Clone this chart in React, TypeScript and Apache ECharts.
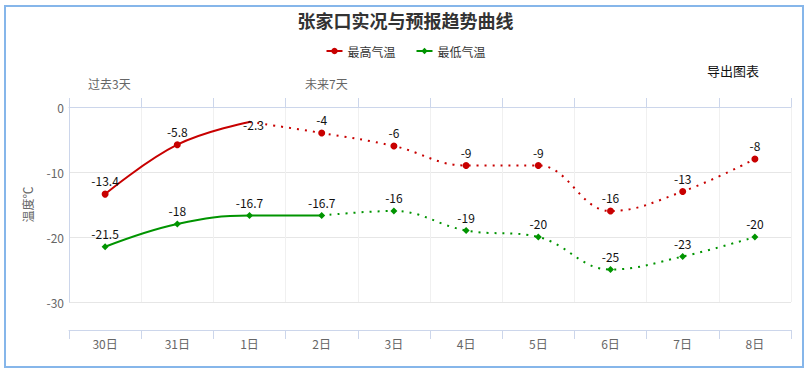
import React, { useEffect, useRef } from "react";
import * as echarts from "echarts";

const categories = ["30日", "31日", "1日", "2日", "3日", "4日", "5日", "6日", "7日", "8日"];
const highTemps = [-13.4, -5.8, -2.3, -4, -6, -9, -9, -16, -13, -8];
const lowTemps = [-21.5, -18, -16.7, -16.7, -16, -19, -20, -25, -23, -20];
// index of last observed (solid) point for each series
const highSolidEnd = 2;
const lowSolidEnd = 3;
const yTicks = { min: -30, max: 0, interval: 10 };

const RED = "#c80000";
const GREEN = "#009400";
const FONT = "'Noto Sans CJK SC', 'Noto Sans', sans-serif";

function buildSeries(name: string, values: number[], solidEnd: number, color: string, symbol: string, specialLabel?: { index: number; offset: number[] }) {
  const itemFor = (v: number, i: number) => {
    if (specialLabel && specialLabel.index === i) {
      return { value: v, symbolSize: 2, label: { show: true, position: "inside", offset: specialLabel.offset } };
    }
    return { value: v, label: { show: true } };
  };
  const solid = values.map((v, i) => (i <= solidEnd ? itemFor(v, i) : "-"));
  const dotted = values.map((v, i) =>
    i < solidEnd ? "-" : i === solidEnd ? { value: v, symbol: "none", label: { show: false } } : itemFor(v, i)
  );
  const common = {
    name,
    type: "line",
    smooth: 0.4,
    symbol,
    symbolSize: 7,
    itemStyle: { color },
    label: { show: true, position: "top", distance: 4, color: "#111", fontSize: 12, fontFamily: FONT },
    z: 3,
  };
  return [
    { ...common, data: solid, lineStyle: { color, width: 2 } },
    { ...common, data: dotted, lineStyle: { color, width: 2, type: [2, 6] } },
  ];
}

export default function App() {
  const ref = useRef<HTMLDivElement>(null);
  useEffect(() => {
    document.body.style.margin = "0";
    const chart = echarts.init(ref.current!, null, { renderer: "svg" });
    const axisBlue = "#ccd6eb";
    chart.setOption({
      animation: false,
      backgroundColor: "#ffffff",
      textStyle: { fontFamily: FONT },
      title: {
        text: "张家口实况与预报趋势曲线",
        left: "center",
        top: 6,
        textStyle: { fontSize: 18, fontWeight: "bold", color: "#333", fontFamily: FONT },
      },
      legend: {
        top: 40,
        left: "center",
        itemWidth: 16,
        itemHeight: 8,
        itemGap: 20,
        data: ["最高气温", "最低气温"],
        textStyle: { fontSize: 12, color: "#333", fontFamily: FONT },
      },
      grid: { left: 69, right: 20, top: 107, bottom: 70, containLabel: false },
      xAxis: [
        {
          type: "category",
          data: categories,
          position: "bottom",
          offset: 28,
          boundaryGap: true,
          axisLine: { show: true, onZero: false, lineStyle: { color: axisBlue, width: 1 } },
          axisTick: { show: true, length: 9, lineStyle: { color: axisBlue } },
          axisLabel: { color: "#666", fontSize: 12, margin: 7, fontFamily: FONT },
          splitLine: { show: true, lineStyle: { color: "#f0f0f0", width: 1 } },
        },
        {
          type: "category",
          data: categories,
          position: "top",
          boundaryGap: true,
          axisLine: { show: true, onZero: false, lineStyle: { color: axisBlue, width: 1 } },
          axisTick: { show: true, length: 9, lineStyle: { color: axisBlue } },
          axisLabel: { show: false },
          splitLine: { show: false },
        },
      ],
      yAxis: {
        type: "value",
        min: yTicks.min,
        max: yTicks.max,
        interval: yTicks.interval,
        name: "温度℃",
        nameLocation: "middle",
        nameGap: 36,
        nameRotate: 90,
        nameTextStyle: { color: "#666", fontSize: 12, fontFamily: FONT },
        axisLine: { show: true, onZero: false, lineStyle: { color: axisBlue } },
        axisTick: { show: false },
        axisLabel: { color: "#666", fontSize: 12, margin: 5, fontFamily: FONT },
        splitLine: { show: true, lineStyle: { color: "#e6e6e6" } },
      },
      graphic: [
        {
          type: "rect",
          shape: { x: 5, y: 6, width: 798, height: 361 },
          style: { fill: "none", stroke: "#86b6ea", lineWidth: 2 },
          silent: true,
        },
        {
          type: "text",
          left: 88,
          top: 77,
          style: { text: "过去3天", fill: "#666", fontSize: 12, fontFamily: FONT },
        },
        {
          type: "text",
          left: 305,
          top: 77,
          style: { text: "未来7天", fill: "#666", fontSize: 12, fontFamily: FONT },
        },
        {
          type: "text",
          left: 707,
          top: 64,
          style: { text: "导出图表", fill: "#111", fontSize: 13, fontFamily: FONT },
        },
      ],
      series: [
        ...buildSeries("最高气温", highTemps, highSolidEnd, RED, "circle", { index: 2, offset: [4, 3] }),
        ...buildSeries("最低气温", lowTemps, lowSolidEnd, GREEN, "diamond"),
      ],
    });
    return () => chart.dispose();
  }, []);
  return <div ref={ref} style={{ width: 811, height: 372 }} />;
}
